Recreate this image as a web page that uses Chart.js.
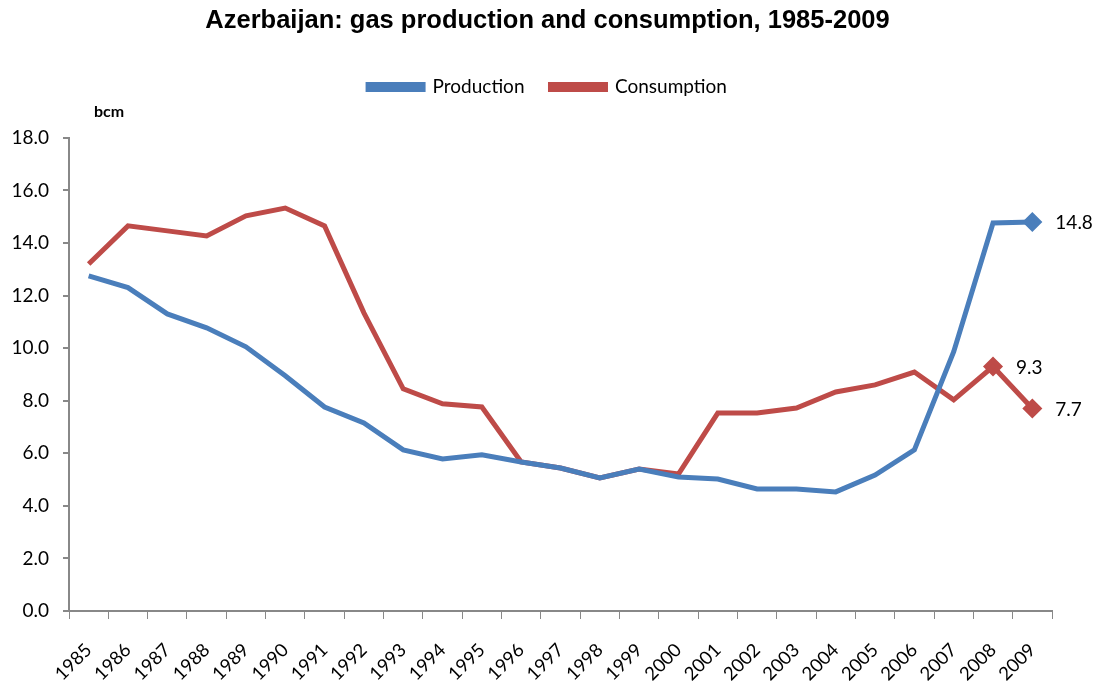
<!DOCTYPE html>
<html><head><meta charset="utf-8">
<script src="https://cdn.jsdelivr.net/npm/chart.js@4/dist/chart.umd.min.js"></script>
<style>html,body{margin:0;padding:0;background:#fff}#wrap{width:1095px;height:681px}</style>
</head><body><div id="wrap"><canvas id="c" width="1095" height="681"></canvas></div>
<script>
const years = ['1985','1986','1987','1988','1989','1990','1991','1992','1993','1994','1995','1996','1997','1998','1999','2000','2001','2002','2003','2004','2005','2006','2007','2008','2009'];
const production = [12.75,12.3,11.3,10.77,10.05,8.95,7.76,7.15,6.13,5.78,5.94,5.67,5.44,5.06,5.4,5.1,5.02,4.64,4.64,4.53,5.17,6.13,9.86,14.76,14.8];
const consumption = [13.2,14.65,14.46,14.27,15.03,15.33,14.65,11.34,8.45,7.88,7.76,5.67,5.44,5.06,5.4,5.21,7.53,7.53,7.72,8.33,8.6,9.09,8.03,9.3,7.7];
const yTicks = [0,2,4,6,8,10,12,14,16,18];
const productionLabelIdx = [24];
const consumptionLabelIdx = [23,24];

const BLUE = '#4A7EBB', RED = '#BE4B48';
const FONT = 'Lato, "Noto Sans", sans-serif';

const labelPlugin = {
  id: 'valueLabels',
  afterDatasetsDraw(chart) {
    const ctx = chart.ctx;
    ctx.save();
    ctx.font = '19px ' + FONT;
    ctx.fillStyle = '#000';
    ctx.textBaseline = 'middle';
    ctx.textAlign = 'left';
    const sets = [[0, productionLabelIdx], [1, consumptionLabelIdx]];
    sets.forEach(([di, idxs]) => {
      const meta = chart.getDatasetMeta(di);
      idxs.forEach(i => {
        const p = meta.data[i];
        const v = chart.data.datasets[di].data[i];
        ctx.fillText(v.toFixed(1), p.x + 23, p.y + 1);
      });
    });
    ctx.font = 'bold 16px ' + FONT;
    ctx.fillText('bcm', chart.chartArea.left + 25, chart.chartArea.top - 26);
    ctx.restore();
  }
};

function radii(idxs) { return years.map((_, i) => idxs.includes(i) ? 6.5 : 0); }

new Chart(document.getElementById('c'), {
  type: 'line',
  data: {
    labels: years,
    datasets: [
      { label: 'Production', data: production, borderColor: BLUE, backgroundColor: BLUE, borderWidth: 5,
        pointStyle: 'rectRot', pointRadius: radii(productionLabelIdx), pointHoverRadius: 0, tension: 0 },
      { label: 'Consumption', data: consumption, borderColor: RED, backgroundColor: RED, borderWidth: 5,
        pointStyle: 'rectRot', pointRadius: radii(consumptionLabelIdx), pointHoverRadius: 0, tension: 0 }
    ]
  },
  options: {
    responsive: false, animation: false, devicePixelRatio: 1,
    layout: { padding: { left: 0, right: 0, top: 0, bottom: 0 } },
    plugins: {
      title: { display: true, text: 'Azerbaijan: gas production and consumption, 1985-2009',
        font: { family: '"Liberation Sans", Arial, sans-serif', size: 25.5, weight: 'bold' }, color: '#000',
        padding: { top: 6, bottom: 15 } },
      subtitle: { display: true, text: '', weight: 500, font: { size: 1 }, padding: { top: 0, bottom: 30 } },
      legend: { display: true, position: 'top',
        labels: { font: { family: FONT, size: 19 }, color: '#000', boxWidth: 55, boxHeight: 5, padding: 26 } },
      tooltip: { enabled: false }
    },
    scales: {
      x: {
        offset: true,
        grid: { offset: true, drawOnChartArea: false, drawTicks: true, tickLength: 8, color: '#888', lineWidth: 1 },
        border: { display: true, color: '#888', width: 2 },
        ticks: { font: { family: FONT, size: 18.5 }, color: '#000', minRotation: 45, maxRotation: 45, autoSkip: false, padding: 20 },
        afterFit(s) { s.height = 70; }
      },
      y: {
        min: 0, max: 18,
        afterBuildTicks(s) { s.ticks = yTicks.map(v => ({ value: v })); },
        grid: { drawOnChartArea: false, drawTicks: true, tickLength: 6, color: '#888', lineWidth: 2 },
        border: { display: true, color: '#888', width: 2 },
        ticks: { font: { family: FONT, size: 19 }, color: '#000', padding: 14, callback: v => v.toFixed(1) },
        afterFit(s) { s.width = 69; }
      },
      yr: {
        position: 'right', display: true,
        grid: { display: false }, border: { display: false }, ticks: { display: false },
        afterFit(s) { s.width = 43; }
      }
    }
  },
  plugins: [labelPlugin]
});
</script></body></html>
